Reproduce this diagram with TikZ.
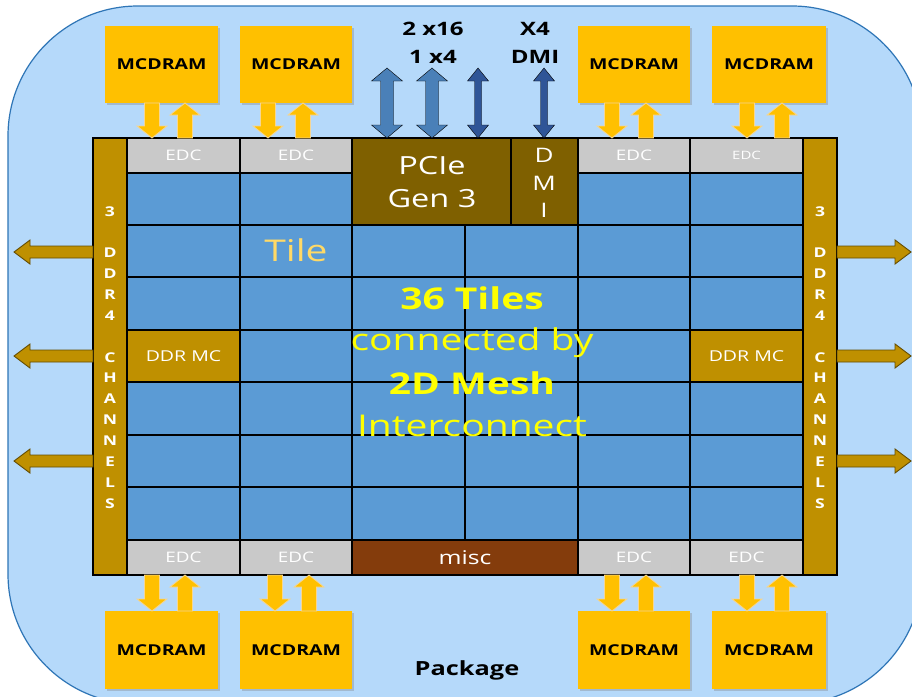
\documentclass[tikz,border=0pt]{standalone}
\usepackage{fontspec}
\setmainfont[FakeStretch=1.3]{Open Sans}
\usetikzlibrary{calc,shadows}
\definecolor{pkgfill}{RGB}{181,217,250}
\definecolor{pkgline}{RGB}{46,117,182}
\definecolor{tileblue}{RGB}{91,155,213}
\definecolor{edcgray}{RGB}{201,201,201}
\definecolor{ddrgold}{RGB}{191,144,0}
\definecolor{ddrline}{RGB}{100,76,0}
\definecolor{pciebrown}{RGB}{127,96,0}
\definecolor{miscbrown}{RGB}{132,60,12}
\definecolor{mcyellow}{RGB}{255,192,0}
\definecolor{yline}{RGB}{244,214,150}
\definecolor{lightarrow}{RGB}{74,128,184}
\definecolor{darkarrow}{RGB}{47,85,151}
\definecolor{meshyellow}{RGB}{255,255,0}
\definecolor{tiletext}{RGB}{255,217,102}
\newcommand\blk[7]{\node[#2,anchor=north west,minimum width={(#5-#3)*1pt},minimum height={(#6-#4)*1pt}] (#1) at (#3,#4) {#7};}
\newcommand\fs[1]{\fontsize{#1}{#1}\selectfont}
\tikzset{
  every node/.style={inner sep=0pt,outer sep=0pt},
  gridline/.style={draw=black,line width=1.4pt},
  tile/.style={gridline,fill=tileblue},
  edc/.style={gridline,fill=edcgray,text=white,font=\fs{14.5}},
  edcsmall/.style={gridline,fill=edcgray,text=white,font=\fs{11.5}},
  ddrbar/.style={gridline,fill=ddrgold},
  ddrmc/.style={gridline,fill=ddrgold,text=white,font=\fs{15}},
  pciebox/.style={gridline,fill=pciebrown},
  miscbox/.style={gridline,fill=miscbrown,text=white,font=\fs{19}},
  mcdram/.style={fill=mcyellow,drop shadow={shadow xshift=1.5pt,shadow yshift=-1.5pt,opacity=0.35},font=\bfseries\fs{15}},
  package/.style={draw=pkgline,line width=1.2pt,fill=pkgfill,rounded corners=130pt},
  toplabel/.style={anchor=base,font=\bfseries\fs{18.5}},
  whitelabel/.style={anchor=base,text=white},
  ddrletter/.style={anchor=base,text=white,font=\bfseries\fs{13.5}},
  meshtext/.style={anchor=base,text=meshyellow,font=\fs{30}},
  vsingle/.style n args={3}{to path={let \p1=(\tikztostart),\p2=(\tikztotarget),\p3=($(\tikztotarget)!#3!(\tikztostart)$) in
    (\x1-#1,\y1) -- (\x1-#1,\y3) -- (\x1-#2,\y3) -- (\x1,\y2) -- (\x1+#2,\y3) -- (\x1+#1,\y3) -- (\x1+#1,\y1) -- cycle}},
  vdouble/.style n args={3}{to path={let \p1=(\tikztostart),\p2=(\tikztotarget),\p3=($(\tikztotarget)!#3!(\tikztostart)$),\p4=($(\tikztostart)!#3!(\tikztotarget)$) in
    (\x1,\y1) -- (\x1+#2,\y4) -- (\x1+#1,\y4) -- (\x1+#1,\y3) -- (\x1+#2,\y3) -- (\x1,\y2) -- (\x1-#2,\y3) -- (\x1-#1,\y3) -- (\x1-#1,\y4) -- (\x1-#2,\y4) -- cycle}},
  hsingle/.style n args={3}{to path={let \p1=(\tikztostart),\p2=(\tikztotarget),\p3=($(\tikztotarget)!#3!(\tikztostart)$) in
    (\x1,\y1-#1) -- (\x3,\y1-#1) -- (\x3,\y1-#2) -- (\x2,\y1) -- (\x3,\y1+#2) -- (\x3,\y1+#1) -- (\x1,\y1+#1) -- cycle}},
  yarrow/.style={fill=mcyellow,draw=yline,line width=0.8pt,vsingle={7.5pt}{15pt}{12pt}},
  ddrarrow/.style={fill=ddrgold,draw=ddrline,line width=0.9pt,hsingle={6pt}{12pt}{16pt}},
  pciearrow/.style={fill=lightarrow,vdouble={6.5pt}{15.5pt}{13pt}},
  dmiarrow/.style={fill=darkarrow,vdouble={3.5pt}{10.5pt}{13pt}},
}
\begin{document}
\begin{tikzpicture}[x=1pt,y=-1pt]
\useasboundingbox (0,0) rectangle (912,696);
\fill[white] (0,0) rectangle (912,696);
% package
\blk{pkg}{package}{8}{6}{922}{704}{}
% tiles
\foreach \xa/\xb [count=\c] in {127/240,240/352,352/465,465/578,578/690,690/803}
  \foreach \ya/\yb [count=\r] in {173/225,225/277,277/330,330/382,382/435,435/487,487/540}
    {\blk{tile-\r-\c}{tile}{\xa}{\ya}{\xb}{\yb}{}}
% EDCs
\blk{edcT1}{edc}{127}{138}{240}{173}{EDC}
\blk{edcT2}{edc}{240}{138}{352}{173}{EDC}
\blk{edcT3}{edc}{578}{138}{690}{173}{EDC}
\blk{edcT4}{edcsmall}{690}{138}{803}{173}{EDC}
\blk{edcB1}{edc}{127}{540}{240}{575}{EDC}
\blk{edcB2}{edc}{240}{540}{352}{575}{EDC}
\blk{edcB3}{edc}{578}{540}{690}{575}{EDC}
\blk{edcB4}{edc}{690}{540}{803}{575}{EDC}
% PCIe, DMI, misc
\blk{pcie}{pciebox}{352}{138}{511}{225}{}
\blk{dmi}{pciebox}{511}{138}{578}{225}{}
\blk{misc}{miscbox}{352}{540}{578}{575}{misc}
% DDR
\blk{ddrL}{ddrbar}{93}{138}{127}{575}{}
\blk{ddrR}{ddrbar}{803}{138}{837}{575}{}
\blk{mcL}{ddrmc}{127}{330}{240}{382}{DDR MC}
\blk{mcR}{ddrmc}{690}{330}{803}{382}{DDR MC}
% MCDRAM
\blk{mcT1}{mcdram}{105}{26}{218}{103}{MCDRAM}
\blk{mcT2}{mcdram}{240}{26}{352}{103}{MCDRAM}
\blk{mcT3}{mcdram}{578}{26}{690}{103}{MCDRAM}
\blk{mcT4}{mcdram}{712}{26}{826}{103}{MCDRAM}
\blk{mcB1}{mcdram}{105}{611}{218}{689}{MCDRAM}
\blk{mcB2}{mcdram}{240}{611}{352}{689}{MCDRAM}
\blk{mcB3}{mcdram}{578}{611}{690}{689}{MCDRAM}
\blk{mcB4}{mcdram}{712}{611}{826}{689}{MCDRAM}
% MCDRAM <-> EDC arrows
\draw[yarrow] (152,0 |- mcT1.south) to (152,0 |- edcT1.north);
\draw[yarrow] (185,0 |- edcT1.north) to (185,0 |- mcT1.south);
\draw[yarrow] (268,0 |- mcT2.south) to (268,0 |- edcT2.north);
\draw[yarrow] (303,0 |- edcT2.north) to (303,0 |- mcT2.south);
\draw[yarrow] (612,0 |- mcT3.south) to (612,0 |- edcT3.north);
\draw[yarrow] (646,0 |- edcT3.north) to (646,0 |- mcT3.south);
\draw[yarrow] (747,0 |- mcT4.south) to (747,0 |- edcT4.north);
\draw[yarrow] (782,0 |- edcT4.north) to (782,0 |- mcT4.south);
\draw[yarrow] (152,0 |- edcB1.south) to (152,0 |- mcB1.north);
\draw[yarrow] (185,0 |- mcB1.north) to (185,0 |- edcB1.south);
\draw[yarrow] (275,0 |- edcB2.south) to (275,0 |- mcB2.north);
\draw[yarrow] (309,0 |- mcB2.north) to (309,0 |- edcB2.south);
\draw[yarrow] (612,0 |- edcB3.south) to (612,0 |- mcB3.north);
\draw[yarrow] (646,0 |- mcB3.north) to (646,0 |- edcB3.south);
\draw[yarrow] (747,0 |- edcB4.south) to (747,0 |- mcB4.north);
\draw[yarrow] (782,0 |- mcB4.north) to (782,0 |- edcB4.south);
% DDR channel arrows
\foreach \yy [count=\k] in {252,356,461} {
  \coordinate (ddrOutL\k) at (14,\yy);
  \coordinate (ddrOutR\k) at (911,\yy);
  \draw[ddrarrow] (ddrL.west |- ddrOutL\k) to (ddrOutL\k);
  \draw[ddrarrow] (ddrR.east |- ddrOutR\k) to (ddrOutR\k);
}
% PCIe / DMI arrows
\coordinate (io1) at (387,68);
\coordinate (io2) at (432,68);
\coordinate (io3) at (478,68);
\coordinate (io4) at (544,68);
\draw[pciearrow] (io1 |- pcie.north) to (io1);
\draw[pciearrow] (io2 |- pcie.north) to (io2);
\draw[dmiarrow] (io3 |- pcie.north) to (io3);
\draw[dmiarrow] (io4 |- dmi.north) to (io4);
% labels
\node[toplabel] (lblA) at (433,35.5) {2 x16};
\node[toplabel] (lblB) at (433,63.5) {1 x4};
\node[toplabel] (lblC) at (535,35.5) {X4};
\node[toplabel] (lblD) at (535,63.5) {DMI};
\node[whitelabel,font=\fs{25}] (pcieA) at (432,174) {PCIe};
\node[whitelabel,font=\fs{25}] (pcieB) at (432,207) {Gen 3};
\node[whitelabel,font=\fs{20}] (dmiA) at (544,162) {D};
\node[whitelabel,font=\fs{20}] (dmiB) at (544,190) {M};
\node[whitelabel,font=\fs{20}] (dmiC) at (544,217) {I};
\node[anchor=base,text=tiletext,font=\fs{30}] (tilelbl) at (296,261.5) {Tile};
\node[meshtext,font=\bfseries\fs{30}] (meshA) at (472,309) {36 Tiles};
\node[meshtext] (meshB) at (472,350) {connected by};
\node[meshtext,font=\bfseries\fs{30}] (meshC) at (472,394) {2D Mesh};
\node[meshtext] (meshD) at (472,436) {Interconnect};
\node[anchor=base,font=\bfseries\fs{19.5}] (pkglbl) at (467,675) {Package};
\foreach \ch [count=\i] in {3,{},D,D,R,4,{},C,H,A,N,N,E,L,S} {
  \node[ddrletter] (dl\i) at (110,{211+(\i-1)*20.86+5}) {\ch};
  \node[ddrletter] (dr\i) at (820,{211+(\i-1)*20.86+5}) {\ch};
}
\end{tikzpicture}
\end{document}
